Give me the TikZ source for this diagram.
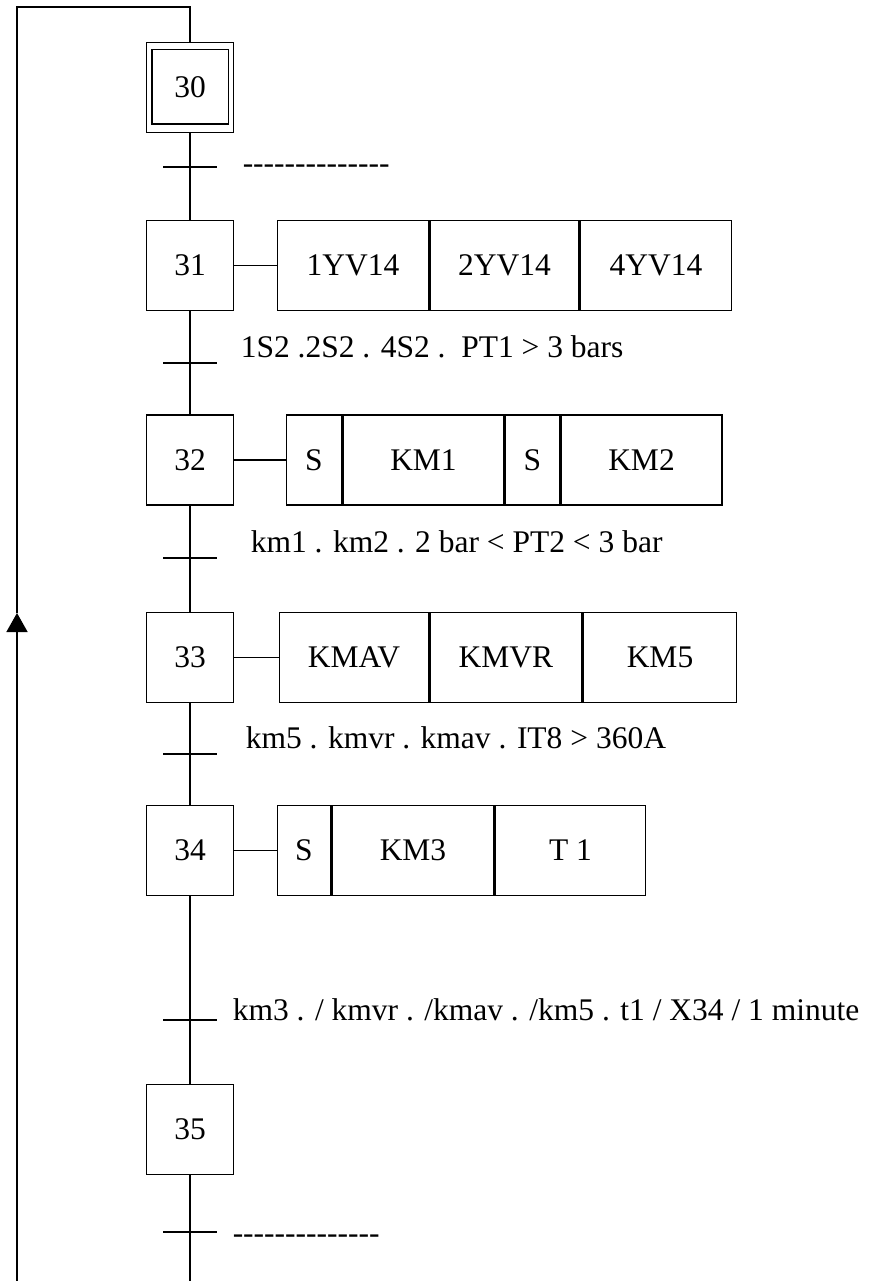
\documentclass[tikz,border=0pt]{standalone}
\usepackage{fontspec}
\setmainfont{Liberation Serif}
\usetikzlibrary{positioning,arrows.meta}
\tikzset{
  grafstep/.style={draw,minimum width=87pt,minimum height=90pt,inner sep=0pt},
  cell/.style={draw,minimum height=90pt,inner sep=0pt},
  cond/.style={anchor=base west,inner sep=0pt},
}
\newcommand{\hyrow}{\foreach \k in {1,...,14}{\hbox{-}}}

\begin{document}
\begin{tikzpicture}[x=1pt,y=-1pt,line width=1.5pt,font=\fontsize{31.5}{36}\selectfont]
\useasboundingbox (0,0) rectangle (874,1281);
% steps
\node[grafstep] (s30) at (190,87.5) {30};
\draw ([shift={(6,8)}]s30.north west) rectangle ([shift={(-6,-9)}]s30.south east);
\node[grafstep] (s31) at (190,265.5) {31};
\node[grafstep] (s32) at (190,460) {32};
\node[grafstep] (s33) at (190,657.5) {33};
\node[grafstep] (s34) at (190,850.5) {34};
\node[grafstep] (s35) at (190,1129.5) {35};
\coordinate (spineend) at (190,1281);
\draw (s30) -- (s31) -- (s32) -- (s33) -- (s34) -- (s35) -- (spineend);
% actions
\node[cell,minimum width=151pt,right=42.5pt of s31] (a31a) {1YV14};
\node[cell,minimum width=149pt,right=0pt of a31a] (a31b) {2YV14};
\node[cell,minimum width=151pt,right=0pt of a31b] (a31c) {4YV14};
\draw (s31) -- (a31a);
\node[cell,minimum width=55pt,right=51.5pt of s32] (a32a) {S};
\node[cell,minimum width=161pt,right=0pt of a32a] (a32b) {KM1};
\node[cell,minimum width=54pt,right=0pt of a32b] (a32c) {S};
\node[cell,minimum width=161pt,right=0pt of a32c] (a32d) {KM2};
\draw (s32) -- (a32a);
\node[cell,minimum width=149pt,right=44.5pt of s33] (a33a) {KMAV};
\node[cell,minimum width=152pt,right=0pt of a33a] (a33b) {KMVR};
\node[cell,minimum width=153pt,right=0pt of a33b] (a33c) {KM5};
\draw (s33) -- (a33a);
\node[cell,minimum width=53pt,right=42.5pt of s34] (a34a) {S};
\node[cell,minimum width=162pt,right=0pt of a34a] (a34b) {KM3};
\node[cell,minimum width=150pt,right=0pt of a34b] (a34c) {T 1};
\draw (s34) -- (a34a);
% transitions
\foreach \t/\y in {t30/167,t31/363,t32/558,t33/754,t34/1020,t35/1232}{
  \coordinate (\t) at (190,\y);
  \draw ([xshift=-27pt]\t) -- ([xshift=27pt]\t);
}
\node[cond] (c30) at (242,174) {\hyrow};
\node[cond] (c31) at (240,357) {1S2 .2S2 . 4S2 .\ \ PT1 > 3 bars};
\node[cond] (c32) at (250,552) {km1 . km2 . 2 bar < PT2 < 3 bar};
\node[cond] (c33) at (245,748) {km5 . kmvr . kmav . IT8 > 360A};
\node[cond] (c34) at (232,1020) {km3 . / kmvr . /kmav . /km5 . t1 / X34 / 1 minute};
\node[cond] (c35) at (232,1243) {\hyrow};
% loop back
\coordinate (loopbot) at (17,1281);
\coordinate (looparr) at (17,613);
\coordinate (looptop) at (17,7);
\draw[-{Triangle[width=21pt,length=19pt]}] (loopbot) -- (looparr);
\draw (looparr) -- (looptop) -| (s30.north);
\end{tikzpicture}
\end{document}
